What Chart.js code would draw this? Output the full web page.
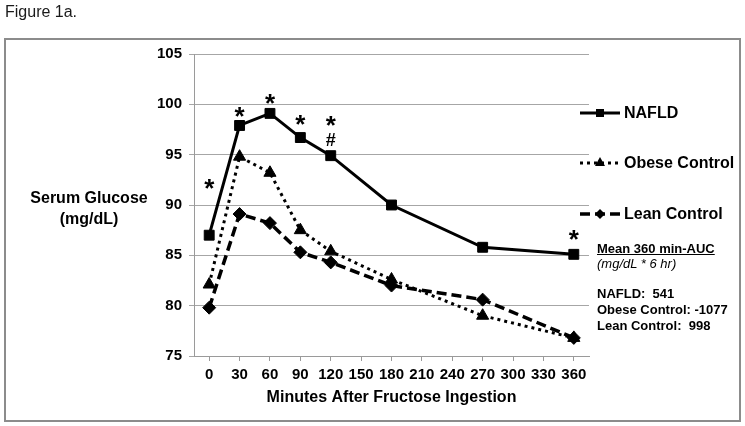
<!DOCTYPE html>
<html>
<head>
<meta charset="utf-8">
<script src="https://cdn.jsdelivr.net/npm/chart.js@4.4.1/dist/chart.umd.min.js"></script>
<style>
  html, body { margin: 0; padding: 0; background: #fff; }
  #wrap { position: relative; width: 745px; height: 426px; font-family: "Liberation Sans", Arial, sans-serif; color: #000; }
  #frame { position: absolute; left: 4px; top: 38px; width: 737px; height: 384px; box-sizing: border-box; border: 2px solid #8c8c8c; }
  #c { position: absolute; left: 0; top: 0; }
  .t { position: absolute; white-space: pre; line-height: 1; }
  #fig { left: 5px; top: 4px; font-size: 16px; color: #1a1a1a; }
  #ytitle { left: 20px; width: 138px; top: 187px; font-size: 16px; font-weight: bold; text-align: center; line-height: 21px; }
  .leg { position: absolute; left: 580px; width: 160px; height: 20px; }
  .leg svg { position: absolute; left: 0; top: 0; }
  .leg span { position: absolute; left: 44px; top: 2px; font-size: 16px; font-weight: bold; line-height: 1; white-space: nowrap; }
  .auc { left: 597px; font-size: 13px; font-weight: bold; }
</style>
</head>
<body>
<div id="wrap">
  <div id="frame"></div>
  <canvas id="c" width="745" height="426"></canvas>
  <div class="t" id="fig">Figure 1a.</div>
  <div class="t" id="ytitle">Serum Glucose
(mg/dL)</div>
  <div id="legend"></div>
  <div class="t auc" style="top:242px;text-decoration:underline;">Mean 360 min-AUC</div>
  <div class="t auc" style="top:257px;font-weight:normal;font-style:italic;">(mg/dL * 6 hr)</div>
  <div class="t auc" style="top:287px;">NAFLD:  541</div>
  <div class="t auc" style="top:303px;">Obese Control: -1077</div>
  <div class="t auc" style="top:319px;">Lean Control:  998</div>
</div>
<script>
// ---- data ----
const minutes = ['0','30','60','90','120','150','180','210','240','270','300','330','360'];
const yTicks = [75, 80, 85, 90, 95, 100, 105];
const seriesNames = ['NAFLD', 'Obese Control', 'Lean Control'];
const nafld = [87.0, 97.9, 99.1, 96.7, 94.9, null, 90.0, null, null, 85.8, null, null, 85.1];
const obese = [82.1, 94.8, 93.2, 87.5, 85.4, null, 82.6, null, null, 79.0, null, null, 76.8];
const lean  = [79.8, 89.1, 88.2, 85.3, 84.3, null, 82.0, null, null, 80.6, null, null, 76.8];
// significance markers (text, minute, glucose level)
const sigText    = ['*', '*', '*', '*', '*', '#', '*'];
const sigMinute  = ['0', '30', '60', '90', '120', '120', '360'];
const sigLevel   = [92.3, 99.4, 100.7, 98.6, 98.5, 96.5, 87.2];
const xTitle = 'Minutes After Fructose Ingestion';

const FONT = '"Liberation Sans", Arial, sans-serif';
const styles = [
  { dash: [], width: 3, point: 'rect', radius: 7 },
  { dash: [3, 4], width: 3, point: 'triangle', radius: 7 },
  { dash: [10, 5], width: 3.5, point: 'rectRot', radius: 6.5 }
];
const values = [nafld, obese, lean];

const sigPlugin = {
  id: 'sig',
  afterDatasetsDraw(chart) {
    const ctx = chart.ctx, xs = chart.scales.x, ys = chart.scales.y;
    ctx.save();
    ctx.fillStyle = '#000';
    ctx.textAlign = 'center';
    ctx.textBaseline = 'alphabetic';
    sigText.forEach((t, i) => {
      const px = xs.getPixelForValue(minutes.indexOf(sigMinute[i]));
      const py = ys.getPixelForValue(sigLevel[i]);
      if (t === '*') {
        ctx.font = 'bold 26px ' + FONT;
        ctx.fillText(t, px, py + 0.57 * 26);
      } else {
        ctx.font = 'bold 18px ' + FONT;
        ctx.fillText(t, px, py + 0.35 * 18);
      }
    });
    ctx.restore();
  }
};

new Chart(document.getElementById('c'), {
  type: 'line',
  data: {
    labels: minutes,
    datasets: seriesNames.map((n, i) => ({
      label: n,
      data: values[i],
      spanGaps: true,
      borderColor: '#000',
      backgroundColor: '#000',
      borderWidth: styles[i].width,
      borderDash: styles[i].dash,
      tension: 0,
      fill: false,
      pointStyle: styles[i].point,
      pointRadius: styles[i].radius,
      pointBackgroundColor: '#000',
      pointBorderColor: '#000',
      pointBorderWidth: 1
    }))
  },
  options: {
    responsive: false,
    animation: false,
    events: [],
    layout: { padding: { left: 134, right: 156, top: 54, bottom: 10 } },
    plugins: { legend: { display: false }, tooltip: { enabled: false } },
    scales: {
      x: {
        type: 'category',
        offset: true,
        afterFit(s) { s.height = 60; },
        grid: { display: true, drawOnChartArea: false, drawTicks: true, tickLength: 5, color: '#9a9a9a', offset: false },
        border: { display: true, color: '#9a9a9a', width: 1 },
        ticks: { color: '#000', padding: 5, maxRotation: 0, autoSkip: false, font: { family: FONT, size: 15, weight: 'bold' } },
        title: { display: true, text: xTitle, color: '#000', padding: { top: 0, bottom: 9 }, font: { family: FONT, size: 16, weight: 'bold' } }
      },
      y: {
        type: 'linear',
        min: yTicks[0],
        max: yTicks[yTicks.length - 1],
        afterFit(s) { s.width = 60; },
        afterBuildTicks(s) { s.ticks = yTicks.map(v => ({ value: v })); },
        grid: { color: '#a6a6a6', lineWidth: 1, tickLength: 5 },
        border: { display: true, color: '#9a9a9a', width: 1 },
        ticks: { color: '#000', padding: 7, font: { family: FONT, size: 15, weight: 'bold' } }
      }
    }
  },
  plugins: [sigPlugin]
});

// legend (HTML with inline SVG samples)
const legTops = [103, 153, 204];
const legHtml = seriesNames.map((n, i) => {
  const s = styles[i];
  let marker = '';
  if (s.point === 'rect') marker = '<rect x="16" y="6" width="8" height="8" fill="#000"/>';
  if (s.point === 'triangle') marker = '<polygon points="20,4 25,13 15,13" fill="#000"/>';
  if (s.point === 'rectRot') marker = '<polygon points="20,5 25,10 20,15 15,10" fill="#000"/>';
  const dash = s.dash.length ? ' stroke-dasharray="' + s.dash.join(',') + '"' : '';
  return '<div class="leg" style="top:' + legTops[i] + 'px"><svg width="42" height="20"><line x1="0" y1="10" x2="40" y2="10" stroke="#000" stroke-width="' + s.width + '"' + dash + '/>' + marker + '</svg><span>' + n + '</span></div>';
}).join('');
document.getElementById('legend').innerHTML = legHtml;
</script>
</body>
</html>
